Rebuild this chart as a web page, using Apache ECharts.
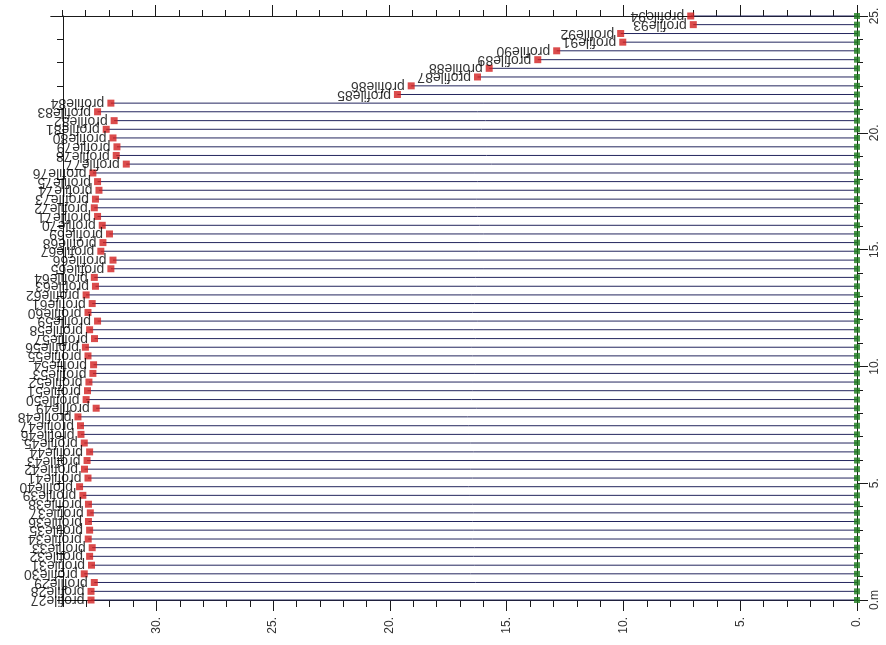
<!DOCTYPE html>
<html><head><meta charset="utf-8">
<script src="https://cdn.jsdelivr.net/npm/echarts@6/dist/echarts.min.js"></script>
<style>html,body{margin:0;padding:0;background:#fff}#c{width:886px;height:645px}</style>
</head><body><div id="c"></div>
<script>
const profileNames = ['profile27','profile28','profile29','profile30','profile31','profile32','profile33','profile34','profile35','profile36',
'profile37','profile38','profile39','profile40','profile41','profile42','profile43','profile44','profile45','profile46',
'profile47','profile48','profile49','profile50','profile51','profile52','profile53','profile54','profile55','profile56',
'profile57','profile58','profile59','profile60','profile61','profile62','profile63','profile64','profile65','profile66',
'profile67','profile68','profile69','profile70','profile71','profile72','profile73','profile74','profile75','profile76',
'profile77','profile78','profile79','profile80','profile81','profile82','profile83','profile84','profile85','profile86',
'profile87','profile88','profile89','profile90','profile91','profile92','profile93','profile94'];
const stations = [0,0.37,0.75,1.12,1.49,1.87,2.24,2.61,2.99,3.36,
3.73,4.10,4.48,4.85,5.22,5.60,5.97,6.34,6.72,7.09,
7.46,7.84,8.21,8.58,8.96,9.33,9.70,10.07,10.45,10.82,
11.19,11.57,11.94,12.31,12.69,13.06,13.43,13.81,14.18,14.55,
14.93,15.30,15.67,16.04,16.42,16.79,17.16,17.54,17.91,18.28,
18.66,19.03,19.40,19.78,20.15,20.52,20.90,21.27,21.64,22.01,
22.39,22.76,23.13,23.51,23.88,24.25,24.63,25.00];
const distances = [32.80,32.80,32.66,33.09,32.78,32.86,32.75,32.92,32.86,32.91,
32.83,32.91,33.15,33.29,32.93,33.08,32.97,32.86,33.09,33.23,
33.25,33.36,32.58,33.01,32.95,32.89,32.72,32.69,32.93,33.04,
32.65,32.86,32.52,32.93,32.75,33.01,32.61,32.66,31.95,31.86,
32.38,32.29,32.01,32.32,32.52,32.66,32.61,32.46,32.52,32.72,
31.29,31.72,31.69,31.86,32.15,31.81,32.52,31.95,19.68,19.09,
16.25,15.75,13.67,12.86,10.03,10.12,7.01,7.12];
const xMajorTicks = [0,5,10,15,20,25,30];
const xMajorLabels = ['0.','5.','10.','15.','20.','25.','30.'];
const xMinorTicks = [0,1,2,3,4,5,6,7,8,9,10,11,12,13,14,15,16,17,18,19,20,21,22,23,24,25,26,27,28,29,30,31,32,33,34];
const yMajorTicks = [0,5,10,15,20,25];
const yMajorLabels = ['0.m','5.','10.','15.','20.','25.'];

const axisColor = '#1a1a1a';
const fontFamily = 'Liberation Sans, Arial, sans-serif';
function lbl(values, labels){
  return function(v){ const i = values.indexOf(Math.round(v*1000)/1000); return i >= 0 ? labels[i] : ''; };
}
const baseX = (extra) => Object.assign({
  type:'value', min:0, max:34, inverse:true, splitLine:{show:false},
  axisLine:{show:true, onZero:false, lineStyle:{color:axisColor, width:1}}
}, extra);

const option = {
  animation:false,
  backgroundColor:'#fff',
  grid:[
    {left:63, right:29, top:16, bottom:45},
    {left:51, right:29, top:16, bottom:45}
  ],
  xAxis:[
    baseX({gridIndex:0, position:'bottom',
      axisTick:{show:true, customValues:xMajorTicks, length:11, lineStyle:{color:axisColor}},
      axisLabel:{show:true, customValues:xMajorTicks, rotate:90, margin:17, color:'#333', fontSize:12, fontFamily:fontFamily,
        formatter:lbl(xMajorTicks, xMajorLabels)}}),
    baseX({gridIndex:0, position:'bottom',
      axisTick:{show:true, customValues:xMinorTicks, length:7, lineStyle:{color:axisColor}},
      axisLabel:{show:false}}),
    baseX({gridIndex:1, position:'top', max:34.47,
      axisTick:{show:true, customValues:xMajorTicks, length:11, lineStyle:{color:axisColor}},
      axisLabel:{show:false}}),
    baseX({gridIndex:1, position:'top', max:34.47,
      axisTick:{show:true, customValues:xMinorTicks, length:6, lineStyle:{color:axisColor}},
      axisLabel:{show:false}})
  ],
  yAxis:[
    {type:'value', gridIndex:0, position:'right', min:0, max:25, interval:5, splitLine:{show:false},
      axisLine:{show:true, onZero:false, lineStyle:{color:axisColor}},
      axisTick:{show:true, length:11, lineStyle:{color:axisColor}},
      minorTick:{show:true, splitNumber:5, length:6, lineStyle:{color:axisColor}},
      axisLabel:{show:true, rotate:90, margin:12, color:'#333', fontSize:12, fontFamily:fontFamily,
        formatter:lbl(yMajorTicks, yMajorLabels)}},
    {type:'value', gridIndex:0, position:'left', min:0, max:25, interval:1, splitLine:{show:false},
      axisLine:{show:true, onZero:false, lineStyle:{color:axisColor}},
      axisTick:{show:true, length:6, lineStyle:{color:axisColor}},
      axisLabel:{show:false}},
    {type:'value', gridIndex:1, min:0, max:25, show:false}
  ],
  series:[
    {
      type:'custom', xAxisIndex:0, yAxisIndex:0, z:2,
      data: distances.map((d,i)=>[d, stations[i]]),
      encode:{x:0, y:1},
      renderItem:function(params, api){
        const p0 = api.coord([0, api.value(1)]);
        const p1 = api.coord([api.value(0), api.value(1)]);
        return {type:'line', shape:{x1:p0[0], y1:p0[1], x2:p1[0], y2:p1[1]},
          style:{stroke:'#24265e', lineWidth:1}};
      }
    },
    {
      type:'scatter', xAxisIndex:0, yAxisIndex:0, z:3,
      symbol:'rect', symbolSize:6,
      itemStyle:{color:'#1b7d1b'},
      data: stations.map(s=>[0, s])
    },
    {
      type:'scatter', xAxisIndex:0, yAxisIndex:0, z:4,
      symbol:'rect', symbolSize:7,
      itemStyle:{color:'#d21f1f'},
      data: distances.map((d,i)=>({name:profileNames[i], value:[d, stations[i]]})),
      label:{show:true, formatter:'{b}', position:'left', distance:3, rotate:180,
        align:'left', verticalAlign:'middle', color:'#000', fontSize:14, fontFamily:fontFamily}
    }
  ]
};
const chart = echarts.init(document.getElementById('c'), null, {renderer:'canvas'});
chart.setOption(option);
</script>
</body></html>
